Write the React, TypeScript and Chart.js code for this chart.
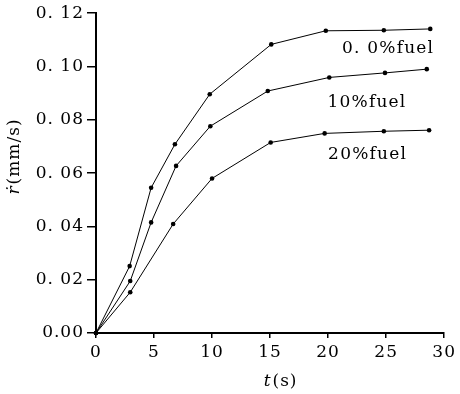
import React, { useEffect, useRef } from "react";
import { Chart, registerables } from "chart.js";

Chart.register(...registerables);

const seriesNames = ["0. 0%fuel", "10%fuel", "20%fuel"];
const t00 = [0, 2.9, 4.75, 6.8, 9.8, 15.1, 19.8, 24.8, 28.8];
const r00 = [0, 0.0251, 0.0545, 0.0708, 0.0896, 0.1083, 0.1134, 0.1136, 0.1141];
const t10 = [0, 2.95, 4.75, 6.9, 9.85, 14.8, 20.1, 24.9, 28.5];
const r10 = [0, 0.0195, 0.0415, 0.0627, 0.0776, 0.0908, 0.0959, 0.0976, 0.099];
const t20 = [0, 2.95, 6.65, 10.0, 15.05, 19.7, 24.8, 28.7];
const r20 = [0, 0.0153, 0.0409, 0.058, 0.0715, 0.0749, 0.0757, 0.0761];
const xTickLabels = ["0", "5", "10", "15", "20", "25", "30"];
const yTickLabels = ["0.00", "0. 02", "0. 04", "0. 06", "0. 08", "0. 10", "0. 12"];
const labelT = [21.2, 19.95, 20.0];
const labelR = [0.1069, 0.0866, 0.0668];

const FONT = "'DejaVu Serif', 'Liberation Serif', serif";

const textPlugin = {
  id: "textPlugin",
  beforeLayout(chart: any) {
    chart.ctx.letterSpacing = "1px";
  },
  beforeDraw(chart: any) {
    chart.ctx.letterSpacing = "1px";
  },
  afterDraw(chart: any) {
    const ctx = chart.ctx as CanvasRenderingContext2D;
    const xs = chart.scales.x;
    const ys = chart.scales.y;
    ctx.save();
    (ctx as any).letterSpacing = "1.2px";
    ctx.fillStyle = "#000";
    ctx.textBaseline = "middle";
    ctx.textAlign = "left";
    ctx.font = `17px ${FONT}`;
    seriesNames.forEach((name, i) => {
      ctx.fillText(name, xs.getPixelForValue(labelT[i]), ys.getPixelForValue(labelR[i]));
    });

    (ctx as any).letterSpacing = "1px";
    // x title
    const italic = `italic 17px ${FONT}`;
    const normal = `17px ${FONT}`;
    ctx.font = italic;
    const wT = ctx.measureText("t").width;
    ctx.font = normal;
    const wS = ctx.measureText("(s)").width;
    const cx = (xs.left + xs.right) / 2 + 10;
    let x0 = cx - (wT + wS) / 2;
    ctx.font = italic;
    ctx.fillText("t", x0, 382);
    ctx.font = normal;
    ctx.fillText("(s)", x0 + wT + 1, 382);

    // y title
    ctx.translate(15, 157);
    ctx.rotate(-Math.PI / 2);
    ctx.font = italic;
    const wR = ctx.measureText("ṙ").width;
    ctx.font = normal;
    const wU = ctx.measureText("(mm/s)").width;
    x0 = -(wR + wU) / 2;
    ctx.font = italic;
    ctx.fillText("ṙ", x0, 0);
    ctx.font = normal;
    ctx.fillText("(mm/s)", x0 + wR + 1, 0);
    ctx.restore();
  },
};

function pts(t: number[], r: number[]) {
  return t.map((v, i) => ({ x: v, y: r[i] }));
}

export default function App() {
  const ref = useRef<HTMLCanvasElement>(null);
  useEffect(() => {
    const ds = (name: string, t: number[], r: number[]) => ({
      label: name,
      data: pts(t, r),
      borderColor: "#000",
      backgroundColor: "#000",
      borderWidth: 1,
      pointRadius: 2.3,
      pointBackgroundColor: "#000",
      pointBorderWidth: 0,
      tension: 0,
      showLine: true,
      clip: false as any,
    });
    const chart = new Chart(ref.current!, {
      type: "line",
      data: {
        datasets: [
          ds(seriesNames[0], t00, r00),
          ds(seriesNames[1], t10, r10),
          ds(seriesNames[2], t20, r20),
        ],
      },
      options: {
        animation: false,
        responsive: false,
        devicePixelRatio: 1,
        layout: { padding: { top: 13, right: 12, left: 0, bottom: 0 } },
        plugins: { legend: { display: false }, tooltip: { enabled: false } },
        scales: {
          x: {
            type: "linear",
            min: 0,
            max: 30,
            ticks: {
              stepSize: 5,
              color: "#000",
              font: { family: FONT, size: 17 },
              padding: 4,
              maxRotation: 0,
              callback: (v: any) => xTickLabels[Math.round(Number(v) / 5)],
            },
            grid: { display: true, drawOnChartArea: false, drawTicks: true, tickLength: 5, color: "#000", lineWidth: 1.5 },
            border: { display: true, color: "#000", width: 2 },
            afterFit: (s: any) => { s.height = 61; },
          },
          y: {
            type: "linear",
            min: 0,
            max: 0.12,
            ticks: {
              stepSize: 0.02,
              color: "#000",
              font: { family: FONT, size: 17 },
              padding: 3,
              callback: (v: any) => yTickLabels[Math.round(Number(v) / 0.02)],
            },
            grid: { display: true, drawOnChartArea: false, drawTicks: true, tickLength: 9, color: "#000", lineWidth: 1.5 },
            border: { display: true, color: "#000", width: 2 },
            afterFit: (s: any) => { s.width = 96; },
          },
        },
      },
      plugins: [textPlugin],
    } as any);
    return () => chart.destroy();
  }, []);
  return (
    <div style={{ position: "fixed", left: 0, top: 0, width: 460, height: 394, background: "#fff" }}>
      <canvas ref={ref} width={460} height={394} style={{ display: "block" }} />
    </div>
  );
}
